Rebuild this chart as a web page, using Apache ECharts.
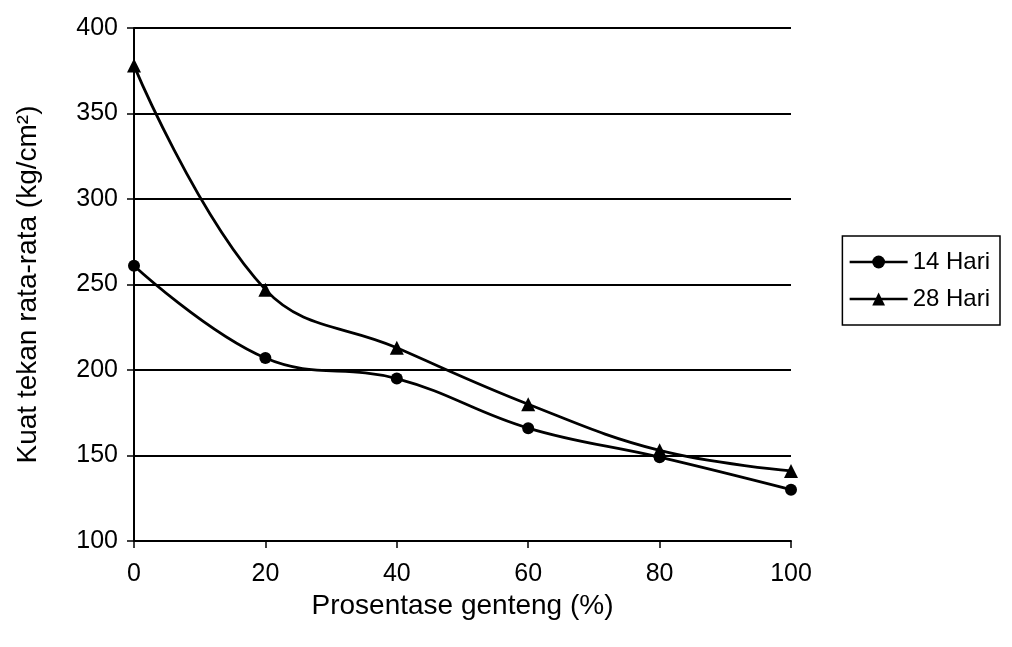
<!DOCTYPE html>
<html>
<head>
<meta charset="utf-8">
<script src="https://cdn.jsdelivr.net/npm/echarts@6/dist/echarts.min.js"></script>
<style>
  html, body { margin: 0; padding: 0; background: #fff; }
  #main { width: 1012px; height: 647px; }
</style>
</head>
<body>
<div id="main"></div>
<script>
// data
var persen = [0, 20, 40, 60, 80, 100];
var hari14 = [261, 207, 195, 166, 149, 130];
var hari28 = [378, 247, 213, 180, 153, 141];

var chart = echarts.init(document.getElementById('main'));
var font = 'Liberation Sans, Arial, sans-serif';

function pairs(ys) {
  return persen.map(function (x, i) { return [x, ys[i]]; });
}

chart.setOption({
  animation: false,
  textStyle: { fontFamily: font, color: '#000' },
  grid: { left: 134, right: 221, top: 28, bottom: 106 },
  legend: {
    orient: 'vertical',
    right: 12,
    top: 236,
    itemWidth: 58,
    itemHeight: 16,
    itemGap: 13,
    padding: [14, 10, 14, 6],
    borderColor: '#000',
    borderWidth: 1.5,
    lineStyle: { width: 2.5, color: '#000' },
    textStyle: { fontSize: 24, color: '#000', fontFamily: font },
    data: ['14 Hari', '28 Hari']
  },
  xAxis: {
    type: 'value',
    min: 0, max: 100, interval: 20,
    name: 'Prosentase genteng (%)',
    nameLocation: 'middle',
    nameGap: 51,
    nameTextStyle: { fontSize: 28, color: '#000' },
    axisLine: { lineStyle: { color: '#000', width: 2 } },
    axisTick: { length: 7, lineStyle: { color: '#000', width: 1.5 } },
    axisLabel: { fontSize: 25, color: '#000', margin: 21 },
    splitLine: { show: false }
  },
  yAxis: {
    type: 'value',
    min: 100, max: 400, interval: 50,
    name: 'Kuat tekan rata-rata (kg/cm²)',
    nameLocation: 'middle',
    nameGap: 92,
    nameTextStyle: { fontSize: 28, color: '#000' },
    axisLine: { show: true, lineStyle: { color: '#000', width: 2 } },
    axisTick: { show: true, length: 7, lineStyle: { color: '#000', width: 1.5 } },
    axisLabel: { fontSize: 25, color: '#000', margin: 16 },
    splitLine: { lineStyle: { color: '#000', width: 2 } }
  },
  series: [
    {
      name: '14 Hari',
      type: 'line',
      smooth: 0.4,
      data: pairs(hari14),
      symbol: 'circle',
      symbolSize: 12,
      lineStyle: { color: '#000', width: 2.8 },
      itemStyle: { color: '#000' }
    },
    {
      name: '28 Hari',
      type: 'line',
      smooth: 0.4,
      data: pairs(hari28),
      symbol: 'triangle',
      symbolSize: 14,
      lineStyle: { color: '#000', width: 2.8 },
      itemStyle: { color: '#000' }
    }
  ]
});
</script>
</body>
</html>
